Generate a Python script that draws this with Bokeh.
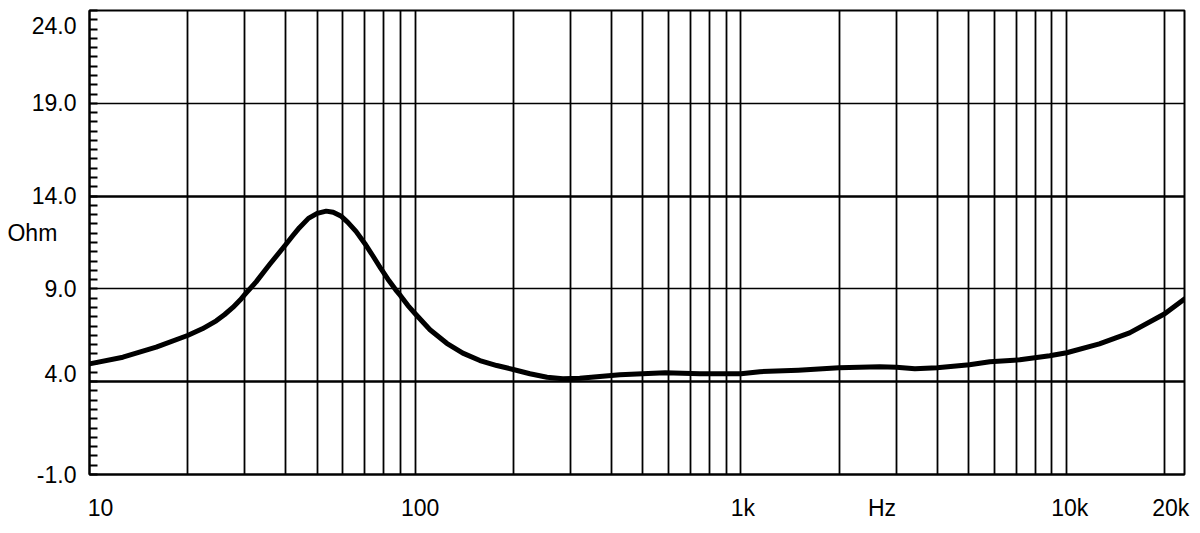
from bokeh.plotting import figure
from bokeh.models import FixedTicker, Grid, Range1d
from bokeh.embed import file_html
from bokeh.resources import INLINE

# ---- data ----
freq_hz = [10, 12.66, 16.02, 20, 22.2, 24.5, 26, 27.55, 29, 30, 32.47, 35.66, 40, 42, 44.1,
           47, 50, 53.3, 56, 59.1, 62, 65.8, 70, 74, 78.4, 83, 87.1, 90, 95, 100, 111, 125,
           140, 158, 178, 200, 225, 254, 284, 320, 425, 585, 748, 1000, 1143, 1500, 2000,
           2667, 3000, 3420, 4000, 5030, 5810, 7180, 8870, 10000, 12600, 15600, 20000, 23000]
impedance_ohm = [4.96, 5.32, 5.86, 6.49, 6.85, 7.28, 7.62, 8.0, 8.4, 8.7, 9.38, 10.3, 11.38,
                 11.85, 12.3, 12.8, 13.07, 13.19, 13.13, 12.93, 12.6, 12.1, 11.45, 10.8, 10.1,
                 9.45, 8.95, 8.65, 8.1, 7.66, 6.8, 6.07, 5.54, 5.14, 4.87, 4.66, 4.43, 4.24,
                 4.16, 4.18, 4.38, 4.48, 4.43, 4.43, 4.54, 4.62, 4.75, 4.8, 4.78, 4.7, 4.75,
                 4.91, 5.07, 5.18, 5.4, 5.56, 6.04, 6.63, 7.66, 8.46]

x_tick_values = [10, 100, 1000, 10000, 20000]
x_tick_labels = ["10", "100", "1k", "10k", "20k"]
y_tick_values = [-1, 4, 9, 14, 19, 24]
y_tick_labels = ["-1.0", "4.0", "9.0", "14.0", "19.0", "24.0"]
y_thick_grid = [4, 14]
y_thin_grid = [9, 19]
x_grid_values = [m * d for d in (10, 100, 1000) for m in range(2, 11)] + [20000]
y_minor_ticks = [-1 + 0.5 * i for i in range(51)]

x_unit = "Hz"
x_unit_at = 2710          # where the unit sits along the frequency axis
y_unit = "Ohm"
y_unit_at = 12            # where the unit sits along the impedance axis

# ---- layout / style ----
FONT = "Liberation Sans"
FS = "23px"
NBSP = "\u00a0"
X_MIN, X_MAX = 10, 23000
Y_MIN, Y_MAX = -1, 24
FRAME_W, FRAME_H = 1095, 464
# small label nudges (pixels) seen in the reference
x_label_nudge_px = [11, 5, 2, 3, 6]        # to the right
y_label_nudge_px = [0, 8, 0, 0, 0, -15]    # upward

import math
px_per_decade = FRAME_W / (math.log10(X_MAX) - math.log10(X_MIN))
px_per_ohm = FRAME_H / (Y_MAX - Y_MIN)
x_label_pos = [v * 10 ** (d / px_per_decade) for v, d in zip(x_tick_values, x_label_nudge_px)]
y_label_pos = [v + d / px_per_ohm for v, d in zip(y_tick_values, y_label_nudge_px)]

p = figure(width=1192, height=525, x_axis_type="log",
           x_range=Range1d(X_MIN, X_MAX), y_range=Range1d(Y_MIN, Y_MAX),
           output_backend="svg", toolbar_location=None,
           min_border_left=89, min_border_right=8, min_border_top=10, min_border_bottom=51)
p.background_fill_color = "white"
p.border_fill_color = "white"
p.outline_line_color = "black"
p.outline_line_width = 2

# grids
p.xgrid.ticker = FixedTicker(ticks=x_grid_values)
p.xgrid.grid_line_color = "black"
p.xgrid.grid_line_width = 1.8
p.ygrid.ticker = FixedTicker(ticks=y_thin_grid)
p.ygrid.grid_line_color = "black"
p.ygrid.grid_line_width = 1.5
p.add_layout(Grid(dimension=1, ticker=FixedTicker(ticks=y_thick_grid),
                  grid_line_color="black", grid_line_width=2.5))

# x axis: tick labels + unit
xa = p.xaxis[0]
xa.ticker = FixedTicker(ticks=x_label_pos + [x_unit_at])
overr = {v: t for v, t in zip(x_label_pos, x_tick_labels)}
overr[x_unit_at] = x_unit
xa.major_label_overrides = overr
xa.major_tick_in = 0
xa.major_tick_out = 0
xa.minor_tick_in = 0
xa.minor_tick_out = 0
xa.major_label_standoff = 20
xa.major_label_text_font = FONT
xa.major_label_text_font_size = FS
xa.major_label_text_color = "black"
xa.axis_line_width = 2
xa.axis_line_color = "black"

# y axis: tick labels + unit, inward minor ticks every 0.5
ya = p.yaxis[0]
ya.ticker = FixedTicker(ticks=y_label_pos + [y_unit_at], minor_ticks=y_minor_ticks)
yover = {v: t for v, t in zip(y_label_pos, y_tick_labels)}
yover[y_unit_at] = y_unit + NBSP * 3
ya.major_label_overrides = yover
ya.major_tick_in = 0
ya.major_tick_out = 0
ya.minor_tick_in = 8
ya.minor_tick_out = 0
ya.minor_tick_line_width = 2
ya.minor_tick_line_color = "black"
ya.major_label_standoff = 13
ya.major_label_text_font = FONT
ya.major_label_text_font_size = FS
ya.major_label_text_color = "black"
ya.axis_line_width = 2
ya.axis_line_color = "black"

# curve
p.line(freq_hz, impedance_ohm, line_width=5, line_color="black",
       line_join="round", line_cap="round")

open("out.html", "w").write(file_html(p, INLINE))
